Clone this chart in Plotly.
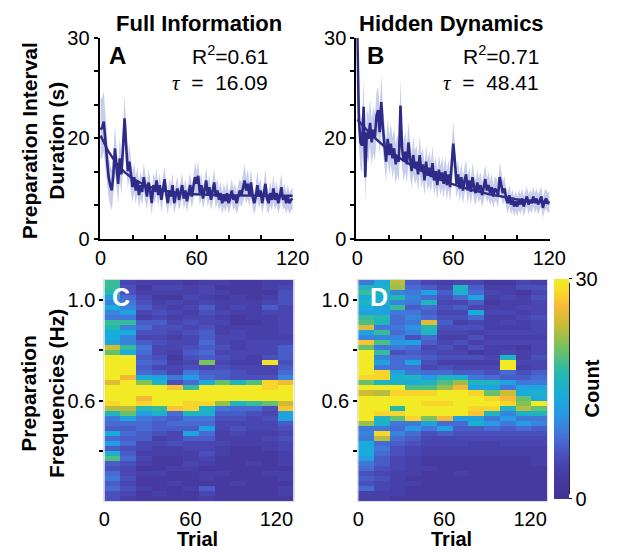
import numpy as np
import plotly.graph_objects as go

W, H = 629, 559
def fx(px): return px / W
def fy(py): return 1 - py / H

# ---------------- data ----------------
trials = list(range(0, 121))

A_mean = [16.3,16.6,17.5,14.9,11.5,9.2,8.0,7.2,9.6,13.5,
          10.6,8.2,12.0,9.6,13.5,18.0,13.9,10.1,11.5,9.2,
          7.7,9.2,7.2,8.7,6.5,8.0,7.0,9.2,7.5,6.3,
          8.4,7.2,5.3,8.0,7.0,8.7,6.5,8.0,5.8,7.5,
          8.9,6.8,5.3,7.2,6.3,8.0,5.3,6.5,7.5,5.8,
          6.8,8.0,6.0,7.2,5.6,7.0,8.0,6.3,7.5,9.2,
          8.2,9.4,6.8,8.0,6.0,7.2,8.7,6.5,7.7,5.8,
          7.0,8.4,6.3,7.2,5.8,6.8,5.3,6.5,5.6,6.8,
          5.3,6.0,7.2,5.8,6.5,5.3,6.3,7.2,6.5,7.7,
          8.7,7.2,8.2,6.5,8.4,6.3,5.3,6.3,8.0,6.3,
          7.2,5.3,6.5,8.2,6.0,5.3,6.8,5.8,7.5,5.8,
          6.8,5.3,6.3,7.7,5.8,6.5,5.3,6.3,5.3,5.8,
          6.0]
A_err = [4.5,4.5,4.5,4.0,3.5,3.0,3.0,3.0,3.0,3.5,
         3.0,3.0,3.0,3.0,3.2,3.5,3.0,2.5,2.5,2.5,
         2.2,2.2,2.0,2.0,2.0,2.0,2.0,2.0,2.0,2.0,
         2.0,1.8,1.8,1.8,1.8,1.8,1.8,1.8,1.8,1.8,
         1.8,1.8,1.6,1.8,1.8,1.8,1.6,1.8,1.8,1.6,
         1.8,1.8,1.6,1.8,1.6,1.8,1.8,1.8,1.8,2.2,
         2.0,2.2,1.8,1.8,1.6,1.8,2.0,1.8,1.8,1.6,
         1.8,2.0,1.8,1.8,1.6,1.8,1.6,1.8,1.6,1.8,
         1.6,1.6,1.8,1.6,1.8,1.6,1.8,1.8,1.8,2.0,
         2.4,2.0,2.2,1.8,2.0,1.8,1.6,1.8,2.2,1.8,
         1.8,1.6,1.8,2.2,1.8,1.6,1.8,1.6,2.0,1.6,
         1.8,1.6,1.8,2.0,1.6,1.8,1.6,1.8,1.6,1.6,
         1.6]

B_mean = [31,17.8,14.4,13.9,19.7,9.2,15.9,14.9,17.3,14.4,
          16.3,15.1,18.3,19.2,15.9,20.4,16.6,13.5,11.5,14.9,
          12.5,14.2,12.0,13.5,11.1,12.5,11.5,19.9,13.5,11.5,
          13.0,11.1,14.4,12.0,10.1,12.5,10.6,11.5,9.6,12.5,
          10.1,11.1,8.7,11.5,9.4,10.6,9.2,11.3,8.7,10.1,
          8.0,10.3,8.7,9.9,8.2,10.1,8.0,9.6,7.7,11.1,
          14.2,11.5,8.2,9.6,7.5,9.2,7.2,8.7,9.6,7.2,
          8.7,7.0,9.2,7.7,6.8,8.4,7.2,8.0,6.5,7.7,
          8.9,7.2,8.0,6.8,7.7,6.3,7.5,7.2,6.5,9.2,
          8.0,6.8,7.5,6.0,5.3,6.5,5.1,5.8,4.8,5.6,
          4.8,5.8,5.1,6.0,4.8,5.6,6.3,5.1,5.8,5.3,
          6.3,5.3,6.0,5.1,5.8,6.3,4.6,5.6,6.0,5.3,
          5.6]
B_err = [3.0,4.0,4.0,4.0,4.0,3.5,3.5,3.5,3.5,3.5,
         3.5,3.5,3.5,3.5,3.5,4.0,3.5,3.0,3.0,3.0,
         3.0,3.0,3.0,3.0,3.0,3.0,3.0,4.0,3.0,3.0,
         3.0,2.8,3.0,2.8,2.5,2.8,2.5,2.5,2.5,2.8,
         2.5,2.5,2.3,2.5,2.3,2.5,2.3,2.5,2.3,2.3,
         2.2,2.3,2.2,2.3,2.2,2.3,2.2,2.2,2.2,2.8,
         3.2,2.8,2.2,2.2,2.0,2.2,2.0,2.0,2.2,2.0,
         2.0,2.0,2.2,2.0,1.8,2.0,1.8,2.0,1.8,2.0,
         2.2,1.8,2.0,1.8,2.0,1.8,1.8,1.8,1.8,2.2,
         2.0,1.8,1.8,1.6,1.6,1.6,1.5,1.5,1.5,1.5,
         1.5,1.5,1.5,1.5,1.5,1.5,1.5,1.5,1.5,1.5,
         1.5,1.5,1.5,1.5,1.5,1.5,1.5,1.5,1.5,1.5,
         1.5]

# exponential fits: y = c + a * exp(-t / tau)
A_fit = dict(c=6.4, a=9.0, tau=16.09, r2="0.61")
B_fit = dict(c=4.15, a=13.65, tau=48.41, r2="0.71")

# top-axis tick labels
top_y_tickvals = [0, 5, 10, 15, 20, 25, 30]
top_y_ticktext = ["0", "", "", "20", "", "", "30"]
top_x_tickvals = [0, 20, 40, 60, 80, 100, 120]
top_x_ticktext = ["0", "", "", "60", "", "", "120"]

# heatmaps: 12 trial bins x 44 frequency bins (0.02 Hz)
trial_bins = [5.5 + 11 * j for j in range(12)]
freq_bins = [round(0.21 + 0.02 * i, 2) for i in range(44)]   # low -> high

# each column listed from top (1.07 Hz) to bottom (0.21 Hz)
C_cols = [
    [18,18,17,12,10,14,10,9,18,17,14,14,13,24,20,31,31,31,31,30,25,31,31,31,28,23,16,9,8,7,14,8,12,7,15,19,7,6,8,9,7,8,6,6],
    [5,6,6,8,9,10,13,9,18,10,14,10,10,18,14,31,31,31,31,26,31,31,31,31,31,23,20,13,8,7,8,7,8,6,7,8,6,5,5,6,5,6,5,4],
    [4,3,4,5,6,7,5,4,7,8,6,5,7,9,8,7,8,7,8,14,21,31,31,26,28,17,12,9,8,8,7,7,5,5,4,5,4,3,4,3,3,4,3,3],
    [4,5,4,3,4,5,6,5,7,6,6,5,6,5,5,6,7,5,7,13,15,31,31,31,31,18,15,8,7,7,6,4,5,4,4,3,3,3,4,3,3,3,4,3],
    [4,5,4,3,5,4,5,4,5,6,5,4,5,5,4,3,4,5,5,9,6,27,31,31,31,27,8,7,8,7,5,5,6,4,4,3,3,4,3,3,4,3,3,3],
    [3,4,4,5,4,5,4,5,6,5,6,5,5,6,7,6,5,6,9,12,8,18,31,31,28,28,16,9,8,7,13,7,5,5,4,4,5,4,3,3,3,4,3,3],
    [4,5,5,4,5,7,6,5,5,6,7,7,8,7,8,7,21,5,7,8,14,31,31,31,28,16,15,9,8,13,8,7,5,5,6,5,4,3,4,4,3,7,5,4],
    [4,3,4,3,4,4,5,4,5,4,4,5,5,6,5,6,5,6,7,7,20,31,31,31,22,9,7,6,5,5,4,4,5,4,4,3,3,3,4,3,3,3,3,3],
    [3,3,3,4,4,5,4,3,3,4,5,5,4,4,5,5,4,5,6,6,16,31,31,31,16,8,7,6,5,6,5,4,4,3,3,3,3,3,3,3,4,3,3,3],
    [3,3,3,3,4,4,4,4,3,4,4,4,5,5,5,4,4,5,5,6,19,31,31,31,18,8,6,5,5,5,4,4,4,3,3,3,4,3,3,3,3,3,3,3],
    [4,4,3,4,5,7,5,4,4,4,4,4,5,5,5,6,29,5,5,6,28,28,31,31,20,6,5,6,5,5,4,5,4,4,3,3,3,3,4,3,3,3,3,3],
    [4,5,6,6,6,5,5,5,5,5,5,4,5,7,7,7,6,7,8,10,26,31,31,31,24,27,13,13,7,6,5,6,5,5,4,4,4,3,4,4,3,4,4,3],
]
D_cols = [
    [9,16,18,14,16,14,13,18,19,25,13,10,27,20,31,31,31,31,31,28,20,31,24,31,31,31,31,31,22,9,10,9,14,14,14,12,9,8,6,7,6,8,4,4],
    [14,15,16,14,15,13,13,17,16,9,18,10,19,9,18,10,13,9,28,28,16,31,23,31,31,31,28,16,15,9,28,23,8,9,8,7,7,6,5,6,5,5,4,4],
    [23,22,10,17,10,18,9,8,8,9,8,10,12,9,6,8,8,8,13,15,15,31,28,31,31,17,28,20,9,8,10,8,7,6,6,5,5,5,4,4,4,4,4,3],
    [7,8,9,10,9,7,9,10,9,11,10,6,13,8,7,8,13,8,9,16,14,19,28,31,31,31,31,28,9,12,8,7,6,5,5,4,4,4,4,3,4,3,3,3],
    [5,7,13,8,16,8,7,8,25,17,16,8,7,5,6,7,6,5,8,12,16,19,28,31,28,31,31,21,13,9,6,5,5,4,4,3,3,4,3,3,3,3,3,3],
    [4,5,7,6,5,6,5,6,7,6,5,4,5,6,5,6,4,6,8,16,19,22,31,31,28,31,31,26,8,13,7,5,5,4,4,3,3,3,3,3,3,3,3,3],
    [5,16,15,8,5,7,5,6,4,6,5,4,6,4,5,6,4,5,7,15,22,26,31,31,31,31,31,13,8,7,6,5,5,4,4,3,3,3,4,3,3,3,3,3],
    [5,7,8,13,7,5,14,8,5,6,4,6,4,6,3,6,4,5,7,9,16,13,28,31,31,28,27,13,15,7,6,5,4,4,4,3,3,3,3,3,3,3,3,3],
    [3,4,5,4,3,4,5,4,4,4,5,4,5,4,4,5,4,5,6,8,16,13,20,28,31,28,16,9,12,8,6,5,4,4,4,3,3,3,3,3,3,3,3,3],
    [3,4,4,5,4,4,5,4,5,4,5,4,5,4,5,16,31,31,8,7,13,9,24,26,28,16,10,12,9,7,6,5,5,4,4,3,3,3,3,3,3,3,3,3],
    [5,6,3,4,4,5,4,5,4,4,5,4,5,3,4,4,5,4,6,7,9,13,14,20,21,23,15,9,12,8,6,5,5,4,4,3,3,3,3,3,3,3,3,3],
    [4,6,5,6,5,5,5,6,5,5,5,4,5,5,5,6,5,5,7,8,9,13,15,14,31,20,16,9,10,7,6,5,5,4,4,4,4,3,3,3,3,3,3,3],
]
heat_x_tickvals = [0, 60, 120]
heat_y_tickvals = [0.4, 0.6, 0.8, 1.0]
heat_y_ticktext = ["", "0.6", "", "1.0"]

# ---------------- style ----------------
LINE = "#2e2a88"
BAND = "rgba(170,178,222,0.65)"
FONT = "Liberation Sans, Arial, sans-serif"
parula = [
    [0.00, "rgb(66,50,150)"],
    [0.10, "rgb(70,58,160)"],
    [0.18, "rgb(74,72,182)"],
    [0.28, "rgb(70,112,214)"],
    [0.38, "rgb(42,150,228)"],
    [0.47, "rgb(24,172,218)"],
    [0.57, "rgb(36,184,176)"],
    [0.68, "rgb(110,194,100)"],
    [0.78, "rgb(195,188,55)"],
    [0.88, "rgb(250,186,56)"],
    [0.95, "rgb(248,222,40)"],
    [1.00, "rgb(242,234,36)"],
]

fig = go.Figure()

def add_curve(mean, err, fit, xa, ya):
    m = np.array(mean, dtype=float)
    e = np.array(err, dtype=float)
    fig.add_trace(go.Scatter(x=trials, y=m + e, mode="lines", line=dict(width=0),
                             hoverinfo="skip", showlegend=False, xaxis=xa, yaxis=ya))
    fig.add_trace(go.Scatter(x=trials, y=m - e, mode="lines", line=dict(width=0),
                             fill="tonexty", fillcolor=BAND, hoverinfo="skip",
                             showlegend=False, xaxis=xa, yaxis=ya))
    fig.add_trace(go.Scatter(x=trials, y=m, mode="lines", line=dict(color=LINE, width=2.6),
                             showlegend=False, xaxis=xa, yaxis=ya))
    tt = np.linspace(0, 120, 241)
    fig.add_trace(go.Scatter(x=tt, y=fit["c"] + fit["a"] * np.exp(-tt / fit["tau"]),
                             mode="lines", line=dict(color=LINE, width=2.4),
                             showlegend=False, xaxis=xa, yaxis=ya))

add_curve(A_mean, A_err, A_fit, "x", "y")
add_curve(B_mean, B_err, B_fit, "x2", "y2")

def heat_z(cols):
    return np.array(cols, dtype=float).T[::-1]

fig.add_trace(go.Heatmap(x=trial_bins, y=freq_bins, z=heat_z(C_cols), coloraxis="coloraxis",
                         xaxis="x3", yaxis="y3"))
fig.add_trace(go.Heatmap(x=trial_bins, y=freq_bins, z=heat_z(D_cols), coloraxis="coloraxis",
                         xaxis="x4", yaxis="y4"))

tick_font = dict(family=FONT, size=20, color="black")

def top_x(dom):
    return dict(domain=dom, range=[-0.6, 120.6], showline=True, linecolor="black", linewidth=2,
                tickvals=top_x_tickvals, ticktext=top_x_ticktext, ticks="inside", ticklen=4,
                tickwidth=1.5, tickcolor="black", showgrid=False, zeroline=False,
                tickfont=tick_font)

def top_y(anchor):
    return dict(domain=[fy(237), fy(28)], range=[0, 30], showline=True, linecolor="black",
                linewidth=2, tickvals=top_y_tickvals, ticktext=top_y_ticktext, ticks="outside",
                ticklen=4, tickwidth=1.5, tickcolor="black", showgrid=False, zeroline=False,
                tickfont=tick_font, anchor=anchor)

def heat_x(dom, anchor):
    return dict(domain=dom, range=[0, 132], tickvals=heat_x_tickvals, ticks="", showgrid=False,
                zeroline=False, showline=True, linecolor="#dddddd", linewidth=1, mirror=True,
                tickfont=tick_font, anchor=anchor)

def heat_y(anchor):
    return dict(domain=[fy(510), fy(280)], range=[0.2, 1.08], tickvals=heat_y_tickvals,
                ticktext=heat_y_ticktext, ticks="outside", ticklen=4, tickwidth=1.5,
                tickcolor="black", showgrid=False, zeroline=False, showline=True,
                linecolor="#dddddd", linewidth=1, mirror=True, tickfont=tick_font, anchor=anchor)

fig.update_layout(
    width=W, height=H, margin=dict(l=0, r=0, t=0, b=0),
    paper_bgcolor="white", plot_bgcolor="white",
    font=dict(family=FONT, color="black", size=20),
    xaxis=dict(top_x([fx(97), fx(298)]), anchor="y"),
    yaxis=top_y("x"),
    xaxis2=dict(top_x([fx(363), fx(564)]), anchor="y2"),
    yaxis2=top_y("x2"),
    xaxis3=heat_x([fx(102), fx(298)], "y3"),
    yaxis3=heat_y("x3"),
    xaxis4=heat_x([fx(365), fx(561)], "y4"),
    yaxis4=heat_y("x4"),
    coloraxis=dict(
        colorscale=parula, cmin=0, cmax=30,
        colorbar=dict(x=fx(568), xanchor="left", y=fy(393), yanchor="middle",
                      len=220, lenmode="pixels", thickness=15, outlinewidth=0,
                      tickvals=[0, 30], ticks="outside", ticklen=3, tickcolor="black",
                      tickfont=tick_font, xpad=0, ypad=0,
                      title=dict(text="<b>Count</b>", side="right",
                                 font=dict(family=FONT, size=20, color="black"))),
    ),
    shapes=[dict(type="line", xref="paper", yref="paper", x0=fx(583.5), x1=fx(583.5),
                 y0=fy(503), y1=fy(283), line=dict(color="black", width=1.5))],
)

def ann(text, x, y, size=20, xanchor="center", color="black", angle=0, yanchor="middle"):
    fig.add_annotation(text=text, x=fx(x), y=fy(y), xref="paper", yref="paper",
                       showarrow=False, xanchor=xanchor, yanchor=yanchor, textangle=angle,
                       borderpad=0, font=dict(family=FONT, size=size, color=color))

ann("<b>Full Information</b>", 200, 13, size=22)
ann("<b>Hidden Dynamics</b>", 462, 13, size=22)
ann("<b>A</b>", 106, 46, size=24, xanchor="left")
ann("<b>B</b>", 373, 46, size=24, xanchor="left")
ann("<b>C</b>", 109, 298, size=25, xanchor="left", color="white")
ann("<b>D</b>", 376, 298, size=25, xanchor="left", color="white")
tau_txt = '<span style="font-family:Liberation Serif"><i>τ</i></span>  =  '
ann("R<sup>2</sup>=" + A_fit["r2"], 273, 46, size=21, xanchor="right")
ann(tau_txt + f'{A_fit["tau"]:.2f}', 273, 75, size=21, xanchor="right")
ann("R<sup>2</sup>=" + B_fit["r2"], 553, 46, size=21, xanchor="right")
ann(tau_txt + f'{B_fit["tau"]:.2f}', 553, 75, size=21, xanchor="right")
ann("<b>Preparation Interval<br>Duration (s)</b>", 38, 135, size=21, angle=-90)
ann("<b>Preparation<br>Frequencies (Hz)</b>", 38, 398, size=21, angle=-90)
ann("<b>Trial</b>", 198, 550)
ann("<b>Trial</b>", 462, 550)

fig.write_html("out.html")
